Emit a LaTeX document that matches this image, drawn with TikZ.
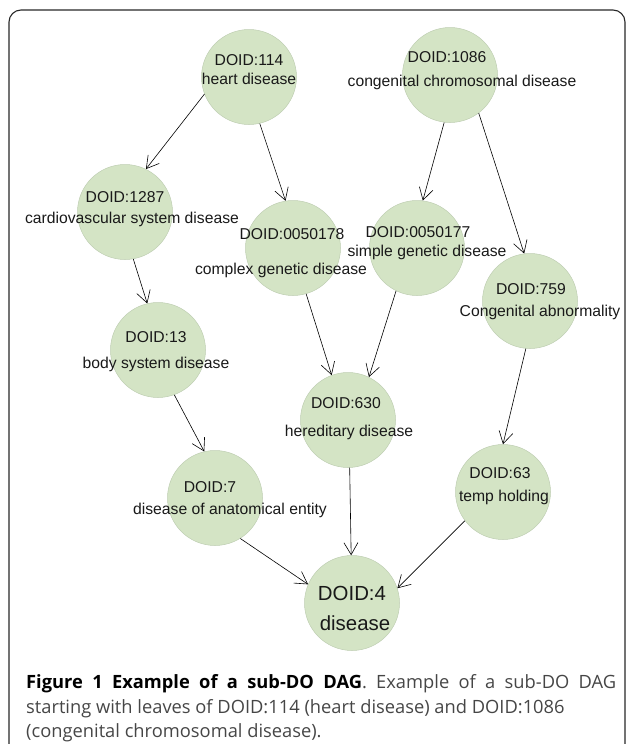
\documentclass[tikz,border=0pt]{standalone}
\usepackage{fontspec}
\setmainfont{Liberation Sans}
\newfontfamily\capfont{Open Sans}
\usetikzlibrary{arrows.meta}
\definecolor{nodefill}{RGB}{212,228,197}
\definecolor{nodeedge}{RGB}{190,206,178}
\definecolor{framecol}{RGB}{40,40,40}
\definecolor{capgray}{RGB}{70,70,70}
\tikzset{
  dnode/.style={circle, fill=nodefill, draw=nodeedge, line width=0.5pt, minimum size=95pt, inner sep=0pt},
  lbl/.style={font=\fontsize{15.7}{18}\selectfont, anchor=base, inner sep=0pt, text=black!90},
  biglbl/.style={font=\fontsize{20.4}{24}\selectfont, anchor=base, inner sep=0pt, text=black!90},
  edge/.style={line width=0.6pt, -{Straight Barb[length=12pt,width=14pt,line width=0.6pt]}},
  caption/.style={anchor=base west, inner sep=0pt, font=\capfont\fontsize{18.3}{24}\selectfont, text=capgray}
}
\begin{document}
\begin{tikzpicture}[x=1pt,y=-1pt]
\useasboundingbox (0,0) rectangle (627,744);
% frame
\draw[line width=1.1pt, framecol, rounded corners=12pt] (9,800) -- (9,10) -- (625,10) -- (625,800);
% circles
\node[dnode] (n114) at (249,77) {};
\node[dnode] (n1086) at (450,75) {};
\node[dnode] (n1287) at (125,212) {};
\node[dnode] (n178) at (293,248) {};
\node[dnode] (n177) at (417,248) {};
\node[dnode] (n759) at (530,301) {};
\node[dnode] (n13) at (158,350) {};
\node[dnode] (n630) at (348,420) {};
\node[dnode] (n7) at (215,498) {};
\node[dnode] (n63) at (503,492) {};
\node[dnode] (n4) at (352,603) {};
% labels
\node[lbl] (t114a) at (249,65.5) {DOID:114};
\node[lbl] (t114b) at (249,84.5) {heart disease};
\node[lbl] (t1086a) at (447,62.5) {DOID:1086};
\node[lbl] (t1086b) at (462,86.5) {congenital chromosomal disease};
\node[lbl] (t1287a) at (125,202.5) {DOID:1287};
\node[lbl] (t1287b) at (132,223.5) {cardiovascular system disease};
\node[lbl] (t178a) at (292,239.5) {DOID:0050178};
\node[lbl] (t178b) at (281,274.5) {complex genetic disease};
\node[lbl] (t177a) at (418,237.5) {DOID:0050177};
\node[lbl] (t177b) at (427,256.5) {simple genetic disease};
\node[lbl] (t759a) at (531,294.5) {DOID:759};
\node[lbl] (t759b) at (540,316.5) {Congenital abnormality};
\node[lbl] (t13a) at (156,342.5) {DOID:13};
\node[lbl] (t13b) at (156,368.5) {body system disease};
\node[lbl] (t630a) at (346,408.5) {DOID:630};
\node[lbl] (t630b) at (349,436.5) {hereditary disease};
\node[lbl] (t7a) at (210,492.5) {DOID:7};
\node[lbl] (t7b) at (230,514.5) {disease of anatomical entity};
\node[lbl] (t63a) at (500,478.5) {DOID:63};
\node[lbl] (t63b) at (504,501.5) {temp holding};
\node[biglbl] (t4a) at (352,600.5) {DOID:4};
\node[biglbl] (t4b) at (355,630.5) {disease};
% edges
\draw[edge] (n114.201.8) -- (n1287.64.5);
\draw[edge] (n114.283) -- (n178.99.5);
\draw[edge] (n1086.263) -- (n177.83);
\draw[edge] (n1086.307) -- (n759.97);
\draw[edge] (n1287.280) -- (n13.103.7);
\draw[edge] (n178.286.6) -- (n630.110);
\draw[edge] (n177.244.5) -- (n630.64.5);
\draw[edge] (n759.265) -- (n63.90);
\draw[edge] (n13.290) -- (n7.103.7);
\draw[edge] (n630.272.4) -- (n4.91);
\draw[edge] (n7.302.7) -- (n4.157.4);
\draw[edge] (n63.217.3) -- (n4.18);
% caption
\node[caption] (cap1) at (26,688) {\makebox[590pt][s]{{\bfseries\color{black}Figure 1 Example of a sub-DO DAG}. Example of a sub-DO DAG}};
\node[caption] (cap2) at (26,713) {starting with leaves of DOID:114 (heart disease) and DOID:1086};
\node[caption] (cap3) at (26,737) {(congenital chromosomal disease).};
\end{tikzpicture}
\end{document}
